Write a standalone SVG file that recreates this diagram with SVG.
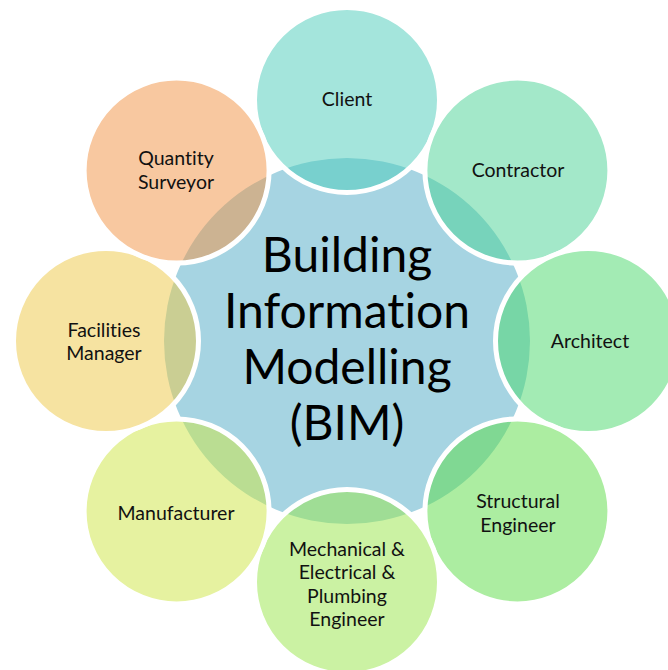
<svg xmlns="http://www.w3.org/2000/svg" width="668" height="670" viewBox="0 0 668 670">
<style>
.bub{stroke:#ffffff;stroke-width:5;fill-opacity:0.5}
.lbl{font-family:Lato,"Liberation Sans",sans-serif;font-size:19.5px;fill:#111111;text-anchor:middle;font-variant-ligatures:none;font-feature-settings:"liga" 0,"clig" 0}
.big{font-family:Lato,"Liberation Sans",sans-serif;font-size:48px;fill:#000000;text-anchor:middle;font-variant-ligatures:none;font-feature-settings:"liga" 0,"clig" 0}
</style>
<rect width="668" height="670" fill="#ffffff"/>
<g id="connectors"/>
<g id="bim">
<circle cx="347" cy="341" r="183" fill="#A6D4E2"/>
<text class="big" x="347" y="272">Building</text>
<text class="big" x="347" y="328">Information</text>
<text class="big" x="347" y="384">Modelling</text>
<text class="big" x="347" y="440">(BIM)</text>
</g>
<g id="client">
<circle class="bub" cx="347" cy="100" r="92.5" fill="#49CBB9"/>
<text class="lbl" x="347" y="106">Client</text>
</g>
<g id="contractor">
<circle class="bub" cx="517.4" cy="170.6" r="92.5" fill="#47D193"/>
<text class="lbl" x="518" y="177">Contractor</text>
</g>
<g id="architect">
<circle class="bub" cx="588" cy="341" r="92.5" fill="#47D769"/>
<text class="lbl" x="590" y="348">Architect</text>
</g>
<g id="structural">
<circle class="bub" cx="517.4" cy="511.4" r="92.5" fill="#59DB43"/>
<text class="lbl" x="518" y="508">Structural</text>
<text class="lbl" x="518" y="532">Engineer</text>
</g>
<g id="mep">
<circle class="bub" cx="347" cy="582" r="92.5" fill="#97E547"/>
<text class="lbl" x="347" y="556">Mechanical &amp;</text>
<text class="lbl" x="347" y="579">Electrical &amp;</text>
<text class="lbl" x="347" y="603">Plumbing</text>
<text class="lbl" x="347" y="626">Engineer</text>
</g>
<g id="manufacturer">
<circle class="bub" cx="176.6" cy="511.4" r="92.5" fill="#CDE541"/>
<text class="lbl" x="176" y="520">Manufacturer</text>
</g>
<g id="facilities">
<circle class="bub" cx="106" cy="341" r="92.5" fill="#EDC743"/>
<text class="lbl" x="104" y="337">Facilities</text>
<text class="lbl" x="104" y="360">Manager</text>
</g>
<g id="qs">
<circle class="bub" cx="176.6" cy="170.6" r="92.5" fill="#F19141"/>
<text class="lbl" x="176" y="165">Quantity</text>
<text class="lbl" x="176" y="189">Surveyor</text>
</g>
</svg>
